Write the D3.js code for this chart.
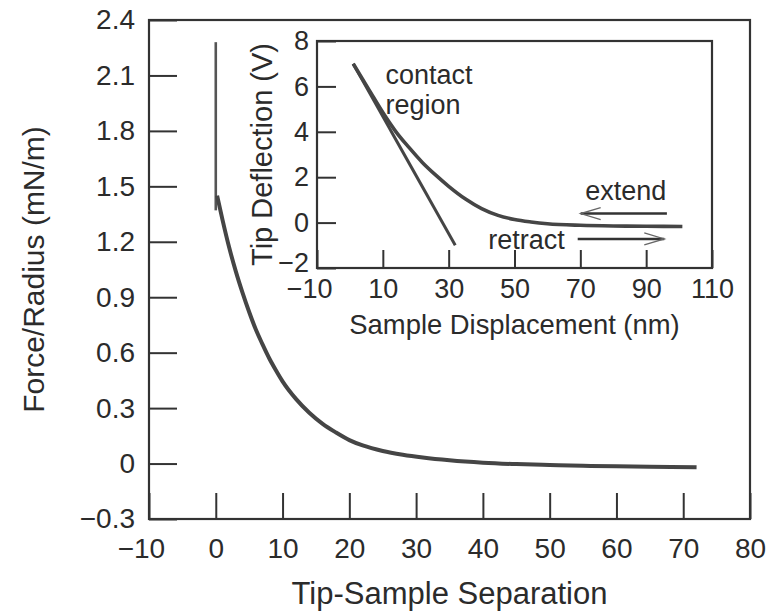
<!DOCTYPE html>
<html>
<head>
<meta charset="utf-8">
<script src="https://cdn.jsdelivr.net/npm/d3@7"></script>
<style>
  html, body { margin: 0; padding: 0; background: #fff; }
  svg { display: block; }
  text { font-family: "Liberation Sans", Arial, Helvetica, sans-serif; fill: #2b2b2b; }
</style>
</head>
<body>
<svg id="chart" width="770" height="613"></svg>
<script>
// ---------- Data ----------
// Main plot: force/radius vs tip-sample separation
const mainXTicks = [-10, 0, 10, 20, 30, 40, 50, 60, 70, 80];
const mainYTicks = [-0.3, 0, 0.3, 0.6, 0.9, 1.2, 1.5, 1.8, 2.1, 2.4];
const spikeX = [0, 0];
const spikeY = [2.28, 1.37];
const curveX = [0.2, 1, 2, 3, 4, 5, 6, 7, 8, 9, 10, 12, 14, 16, 18, 20, 22, 25, 28, 31, 35, 40, 45, 50, 55, 60, 65, 72];
const curveY = [1.45, 1.32, 1.17, 1.04, 0.925, 0.82, 0.725, 0.645, 0.57, 0.505, 0.445, 0.35, 0.275, 0.215, 0.168, 0.127, 0.098, 0.068, 0.048, 0.033, 0.018, 0.005, -0.003, -0.008, -0.012, -0.015, -0.017, -0.02];

// Inset: tip deflection vs sample displacement
const insetXTicks = [-10, 10, 30, 50, 70, 90, 110];
const insetYTicks = [-2, 0, 2, 4, 6, 8];
const extendX = [1, 6, 10, 14, 18, 22, 26, 30, 35, 40, 45, 50, 55, 60, 70, 80, 90, 101];
const extendY = [7, 5.8, 4.85, 4.0, 3.3, 2.65, 2.1, 1.6, 1.05, 0.62, 0.32, 0.14, 0.03, -0.05, -0.12, -0.15, -0.16, -0.17];
const retractX = [1, 32];
const retractY = [7, -1];

// Inset annotations (data coordinates)
const insetLabels = [
  { text: "contact", x: 10.8, y: 6.1 },
  { text: "region", x: 10.8, y: 4.8 },
  { text: "extend", x: 71.5, y: 1.0 },
  { text: "retract", x: 42, y: -1.15 }
];
const insetArrows = [
  { x0: 96.3, x1: 70.1, y: 0.4 },   // extend, pointing left
  { x0: 69.2, x1: 95.5, y: -0.72 }  // retract, pointing right
];

// ---------- Drawing ----------
const svg = d3.select("#chart");
const ink = "#333";
const lineInk = "#454545";
const fmt = d => (d < 0 ? "\u2212" : "") + Math.abs(d);

// Main scales
const x = d3.scaleLinear().domain([-10, 80]).range([149, 750]);
const y = d3.scaleLinear().domain([-0.3, 2.4]).range([519, 20]);

// Main frame
svg.append("rect")
  .attr("x", x(-10)).attr("y", y(2.4))
  .attr("width", x(80) - x(-10)).attr("height", y(-0.3) - y(2.4))
  .attr("fill", "none").attr("stroke", ink).attr("stroke-width", 2.2);

// Main x axis
const gx = svg.append("g").attr("transform", `translate(0,${y(-0.3)})`)
  .call(d3.axisBottom(x).tickValues(mainXTicks).tickSizeInner(-26).tickSizeOuter(0)
    .tickPadding(19).tickFormat(fmt));
gx.select(".domain").remove();
gx.selectAll(".tick line").attr("stroke", ink).attr("stroke-width", 2);
gx.selectAll(".tick text").attr("font-size", 28).attr("fill", "#2b2b2b")
  .attr("dx", d => d < 0 ? "-0.29em" : 0);

// Main y axis
const gy = svg.append("g").attr("transform", `translate(${x(-10)},0)`)
  .call(d3.axisLeft(y).tickValues(mainYTicks).tickSizeInner(-28).tickSizeOuter(0)
    .tickPadding(14).tickFormat(fmt));
gy.select(".domain").remove();
gy.selectAll(".tick line").attr("stroke", ink).attr("stroke-width", 2);
gy.selectAll(".tick text").attr("font-size", 28).attr("fill", "#2b2b2b");

// Main axis labels
svg.append("text")
  .attr("x", (x(-10) + x(80)) / 2).attr("y", 604)
  .attr("text-anchor", "middle").attr("font-size", 31)
  .text("Tip-Sample Separation");
svg.append("text")
  .attr("transform", `translate(44,${(y(2.4) + y(-0.3)) / 2}) rotate(-90)`)
  .attr("text-anchor", "middle").attr("font-size", 30)
  .text("Force/Radius (mN/m)");

// Main curves
const mainLine = d3.line().x(d => x(d[0])).y(d => y(d[1])).curve(d3.curveMonotoneX);
svg.append("path")
  .datum(spikeX.map((v, i) => [v, spikeY[i]]))
  .attr("d", d3.line().x(d => x(d[0])).y(d => y(d[1])))
  .attr("fill", "none").attr("stroke", "#555").attr("stroke-width", 2.6);
svg.append("path")
  .datum(curveX.map((v, i) => [v, curveY[i]]))
  .attr("d", mainLine)
  .attr("fill", "none").attr("stroke", lineInk).attr("stroke-width", 4)
  .attr("stroke-linecap", "butt").attr("stroke-linejoin", "round");

// ---------- Inset ----------
const ix = d3.scaleLinear().domain([-10, 110]).range([317, 712]);
const iy = d3.scaleLinear().domain([-2, 8]).range([268, 41]);

svg.append("rect")
  .attr("x", ix(-10)).attr("y", iy(8))
  .attr("width", ix(110) - ix(-10)).attr("height", iy(-2) - iy(8))
  .attr("fill", "#fff").attr("stroke", ink).attr("stroke-width", 2.2);

const igx = svg.append("g").attr("transform", `translate(0,${iy(-2)})`)
  .call(d3.axisBottom(ix).tickValues(insetXTicks).tickSizeInner(-18).tickSizeOuter(0)
    .tickPadding(11).tickFormat(fmt));
igx.select(".domain").remove();
igx.selectAll(".tick line").attr("stroke", ink).attr("stroke-width", 2);
igx.selectAll(".tick text").attr("font-size", 27).attr("fill", "#2b2b2b")
  .attr("dx", d => d < 0 ? "-0.29em" : 0);

const igy = svg.append("g").attr("transform", `translate(${ix(-10)},0)`)
  .call(d3.axisLeft(iy).tickValues(insetYTicks).tickSizeInner(-19).tickSizeOuter(0)
    .tickPadding(8).tickFormat(fmt));
igy.select(".domain").remove();
igy.selectAll(".tick line").attr("stroke", ink).attr("stroke-width", 2);
igy.selectAll(".tick text").attr("font-size", 27).attr("fill", "#2b2b2b")
  .attr("y", d => d === -2 ? -5 : 0);

svg.append("text")
  .attr("x", (ix(-10) + ix(110)) / 2).attr("y", 334)
  .attr("text-anchor", "middle").attr("font-size", 27.4)
  .text("Sample Displacement (nm)");
svg.append("text")
  .attr("transform", `translate(272,${(iy(8) + iy(-2)) / 2}) rotate(-90)`)
  .attr("text-anchor", "middle").attr("font-size", 29)
  .text("Tip Deflection (V)");

const insetLine = d3.line().x(d => ix(d[0])).y(d => iy(d[1])).curve(d3.curveMonotoneX);
svg.append("path")
  .datum(retractX.map((v, i) => [v, retractY[i]]))
  .attr("d", d3.line().x(d => ix(d[0])).y(d => iy(d[1])))
  .attr("fill", "none").attr("stroke", lineInk).attr("stroke-width", 3);
svg.append("path")
  .datum(extendX.map((v, i) => [v, extendY[i]]))
  .attr("d", insetLine)
  .attr("fill", "none").attr("stroke", lineInk).attr("stroke-width", 3.6)
  .attr("stroke-linejoin", "round");

insetLabels.forEach(l => {
  svg.append("text").attr("x", ix(l.x)).attr("y", iy(l.y))
    .attr("font-size", 27).text(l.text);
});

insetArrows.forEach(a => {
  const px0 = ix(a.x0), px1 = ix(a.x1), py = iy(a.y);
  const dir = px1 > px0 ? 1 : -1;
  svg.append("line").attr("x1", px0).attr("x2", px1).attr("y1", py).attr("y2", py)
    .attr("stroke", ink).attr("stroke-width", 2.4);
  svg.append("path")
    .attr("d", `M${px1 - dir * 20},${py - 6}L${px1},${py}L${px1 - dir * 20},${py + 6}`)
    .attr("fill", "none").attr("stroke", "#666").attr("stroke-width", 1.3);
});
</script>
</body>
</html>
